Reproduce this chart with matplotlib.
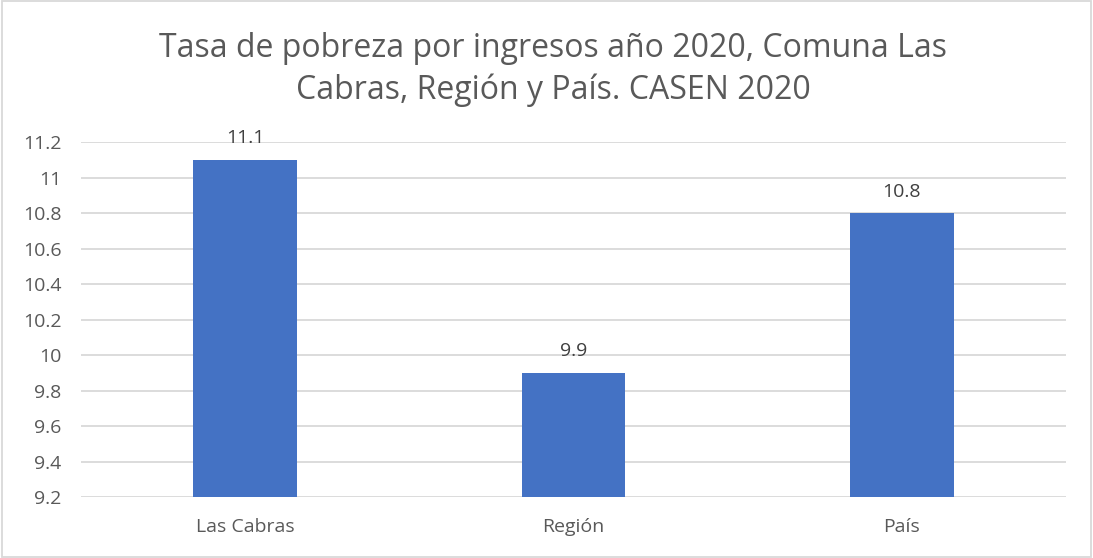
import matplotlib.pyplot as plt
from matplotlib.patches import Rectangle

categories = ['Las Cabras', 'Región', 'País']
values = [11.1, 9.9, 10.8]
y_ticks = [9.2, 9.4, 9.6, 9.8, 10, 10.2, 10.4, 10.6, 10.8, 11, 11.2]
y_labels = ['9.2', '9.4', '9.6', '9.8', '10', '10.2', '10.4', '10.6', '10.8', '11', '11.2']
title = 'Tasa de pobreza por ingresos año 2020, Comuna Las\nCabras, Región y País. CASEN 2020'

plt.rcParams['font.family'] = ['Open Sans', 'DejaVu Sans']

fig = plt.figure(figsize=(10.93, 5.58), dpi=100)
ax = fig.add_axes([0.0741, 0.1093, 0.9012, 0.6362])

x = range(len(categories))
bars = ax.bar(x, values, width=0.315, color='#4472C4', zorder=3)
for i, v in enumerate(values):
    ax.text(i, v + 0.07, f'{v:g}', ha='center', va='bottom', fontsize=14, color='#404040')

ax.set_ylim(9.2, 11.2)
ax.set_xlim(-0.5, 2.5)
ax.set_yticks(y_ticks)
ax.set_yticklabels(y_labels)
ax.set_xticks(list(x))
ax.set_xticklabels(categories)
ax.tick_params(axis='both', length=0, labelsize=14, colors='#595959')
ax.tick_params(axis='y', pad=14)
ax.tick_params(axis='x', pad=15)
ax.grid(axis='y', color='#D9D9D9', linewidth=1.3, zorder=0)
for s in ax.spines.values():
    s.set_visible(False)

fig.text(0.506, 0.943, title, ha='center', va='top', fontsize=23, color='#595959', linespacing=1.33)
fig.patches.append(Rectangle((0.002, 0.002), 0.996, 0.996, transform=fig.transFigure,
                             fill=False, edgecolor='#D9D9D9', linewidth=1.3))

fig.savefig('out.png', dpi=100)
